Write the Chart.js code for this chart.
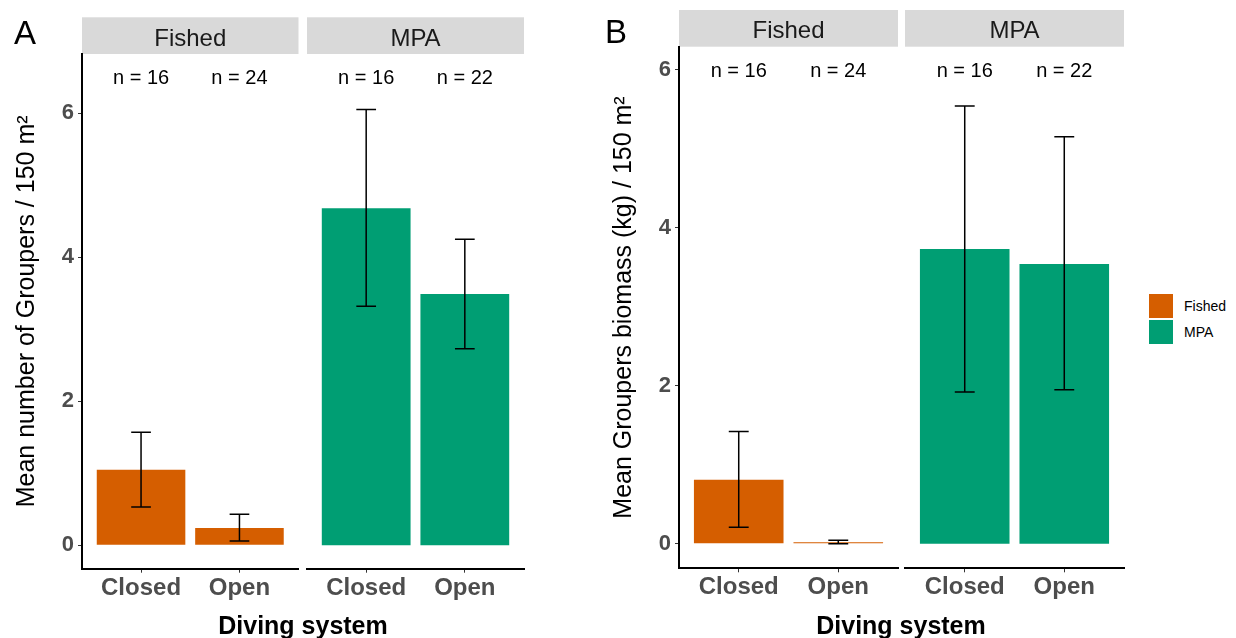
<!DOCTYPE html>
<html><head><meta charset="utf-8">
<script src="https://cdn.jsdelivr.net/npm/chart.js@4.4.1/dist/chart.umd.min.js"></script>
<style>
html,body{margin:0;padding:0;background:#fff;}
#wrap{position:relative;width:1236px;height:638px;overflow:hidden;background:#fff;font-family:'Liberation Sans',Arial,sans-serif;}
canvas{position:absolute;top:0;}
.lbl{position:absolute;white-space:nowrap;color:#000;}
.leg{position:absolute;display:flex;align-items:center;font-size:14px;color:#000;}
.leg span.sw{display:inline-block;width:24px;height:24px;margin-right:11px;}
</style></head><body>
<div id="wrap">
  <canvas id="a1" width="300" height="638" style="left:0px"></canvas>
  <canvas id="a2" width="230" height="638" style="left:300px"></canvas>
  <canvas id="b1" width="305" height="638" style="left:597px"></canvas>
  <canvas id="b2" width="230" height="638" style="left:902px"></canvas>
  <div class="lbl" style="left:14px;top:16px;font-size:33px;line-height:33px;">A</div>
  <div class="lbl" style="left:605px;top:15px;font-size:33px;line-height:33px;">B</div>
  <div class="lbl" style="left:203px;width:200px;text-align:center;top:613px;font-size:25px;line-height:25px;font-weight:bold;">Diving system</div>
  <div class="lbl" style="left:801px;width:200px;text-align:center;top:613px;font-size:25px;line-height:25px;font-weight:bold;">Diving system</div>
  <div id="legend"></div>
</div>
<script>
// ---------- data ----------
const CATEGORIES = ['Closed', 'Open'];
const GROUPS = ['Fished', 'MPA'];
const Y_TICKS = [0, 2, 4, 6];

// Panel A: mean number of groupers / 150 m2
const A_FISHED_MEAN = [1.05, 0.24];
const A_FISHED_LO   = [0.53, 0.06];
const A_FISHED_HI   = [1.57, 0.43];
const A_FISHED_N    = [16, 24];
const A_MPA_MEAN    = [4.68, 3.49];
const A_MPA_LO      = [3.32, 2.73];
const A_MPA_HI      = [6.05, 4.25];
const A_MPA_N       = [16, 22];

// Panel B: mean groupers biomass (kg) / 150 m2
const B_FISHED_MEAN = [0.81, 0.02];
const B_FISHED_LO   = [0.21, 0.0];
const B_FISHED_HI   = [1.42, 0.045];
const B_FISHED_N    = [16, 24];
const B_MPA_MEAN    = [3.73, 3.54];
const B_MPA_LO      = [1.92, 1.95];
const B_MPA_HI      = [5.54, 5.15];
const B_MPA_N       = [16, 22];

// ---------- style ----------
const FONT = "'Liberation Sans', Arial, sans-serif";
const COLORS = { Fished: '#D55E00', MPA: '#009E73' };
const H = 638, X_AXIS_H = 40, Y_AXIS_W = 82, ERR_W = 0.2;
Chart.defaults.font.family = FONT;

function makeExtras(o) {
  return {
    id: 'facetExtras',
    beforeDraw(chart) {
      const { ctx, chartArea: a } = chart;
      ctx.save();
      ctx.fillStyle = '#D9D9D9';
      ctx.fillRect(a.left, o.stripTop, a.right - a.left, a.top - o.stripTop);
      ctx.fillStyle = '#1A1A1A';
      ctx.font = '24px ' + FONT;
      ctx.textAlign = 'center';
      ctx.textBaseline = 'alphabetic';
      ctx.fillText(o.group, (a.left + a.right) / 2, a.top - 8.5);
      ctx.restore();
    },
    afterDatasetsDraw(chart) {
      const { ctx, scales: { x, y } } = chart;
      ctx.save();
      ctx.strokeStyle = '#000';
      ctx.lineWidth = 1.5;
      o.lo.forEach((lo, i) => {
        const cx = x.getPixelForValue(i);
        const w = x.getPixelForValue(i + ERR_W / 2) - cx;
        const y1 = y.getPixelForValue(lo), y2 = y.getPixelForValue(o.hi[i]);
        ctx.beginPath();
        ctx.moveTo(cx, y1); ctx.lineTo(cx, y2);
        ctx.moveTo(cx - w, y1); ctx.lineTo(cx + w, y1);
        ctx.moveTo(cx - w, y2); ctx.lineTo(cx + w, y2);
        ctx.stroke();
      });
      ctx.fillStyle = '#000';
      ctx.font = '20px ' + FONT;
      ctx.textAlign = 'center';
      ctx.textBaseline = 'middle';
      o.n.forEach((n, i) => {
        ctx.fillText('n = ' + n, x.getPixelForValue(i), y.getPixelForValue(o.nY));
      });
      ctx.restore();
    }
  };
}

function facet(id, o) {
  return new Chart(document.getElementById(id), {
    type: 'bar',
    data: {
      datasets: [{
        label: o.group,
        data: o.mean.map((v, i) => ({ x: i, y: v })),
        backgroundColor: COLORS[o.group],
        borderWidth: 0,
        categoryPercentage: 1,
        barPercentage: 0.9
      }]
    },
    options: {
      responsive: false,
      animation: false,
      events: [],
      layout: { padding: { left: o.padL, right: o.padR, top: o.top, bottom: H - o.bottom - X_AXIS_H } },
      plugins: { legend: { display: false }, tooltip: { enabled: false } },
      scales: {
        x: {
          type: 'linear', min: -0.6, max: 1.6, offset: false,
          afterBuildTicks: s => { s.ticks = CATEGORIES.map((c, i) => ({ value: i })); },
          afterFit: s => { s.height = X_AXIS_H; },
          ticks: { callback: v => CATEGORIES[v], font: { size: 24, weight: 'bold' }, color: '#4D4D4D', padding: 1, maxRotation: 0, autoSkip: false },
          grid: { offset: false, drawOnChartArea: false, drawTicks: true, tickLength: 4, color: '#333333', lineWidth: 1 },
          border: { display: true, color: '#000', width: 2 }
        },
        y: {
          type: 'linear', display: o.showY, min: o.yMin, max: o.yMax,
          afterBuildTicks: s => { s.ticks = Y_TICKS.map(v => ({ value: v })); },
          afterFit: s => { s.width = o.showY ? Y_AXIS_W : 0; },
          ticks: { font: { size: 22, weight: 'bold' }, color: '#4D4D4D', padding: 4 },
          grid: { drawOnChartArea: false, drawTicks: true, tickLength: 4, color: '#333333', lineWidth: 1 },
          border: { display: true, color: '#000', width: 2 },
          title: { display: !!o.yTitle, text: o.yTitle || '', font: { size: 25 }, color: '#000', padding: { top: 12, bottom: 0 } }
        }
      }
    },
    plugins: [makeExtras(o)]
  });
}

const A_Y = { yMin: -0.325, yMax: 6.82, top: 54, bottom: 568.7, stripTop: 17.3, nY: 6.48 };
const B_Y = { yMin: -0.31, yMax: 6.29, top: 46.7, bottom: 568.3, stripTop: 10, nY: 5.98 };

facet('a1', Object.assign({ group: 'Fished', showY: true, yTitle: 'Mean number of Groupers / 150 m²', padL: 0, padR: 1.5,
  mean: A_FISHED_MEAN, lo: A_FISHED_LO, hi: A_FISHED_HI, n: A_FISHED_N }, A_Y));
facet('a2', Object.assign({ group: 'MPA', showY: false, padL: 7, padR: 6,
  mean: A_MPA_MEAN, lo: A_MPA_LO, hi: A_MPA_HI, n: A_MPA_N }, A_Y));
facet('b1', Object.assign({ group: 'Fished', showY: true, yTitle: 'Mean Groupers biomass (kg) / 150 m²', padL: 0, padR: 4,
  mean: B_FISHED_MEAN, lo: B_FISHED_LO, hi: B_FISHED_HI, n: B_FISHED_N }, B_Y));
facet('b2', Object.assign({ group: 'MPA', showY: false, padL: 3, padR: 8,
  mean: B_MPA_MEAN, lo: B_MPA_LO, hi: B_MPA_HI, n: B_MPA_N }, B_Y));

// legend
const leg = document.getElementById('legend');
GROUPS.forEach((g, i) => {
  const d = document.createElement('div');
  d.className = 'leg';
  d.style.left = '1149px';
  d.style.top = (294 + i * 26) + 'px';
  d.innerHTML = '<span class="sw" style="background:' + COLORS[g] + '"></span><span>' + g + '</span>';
  leg.appendChild(d);
});
</script>
</body></html>
